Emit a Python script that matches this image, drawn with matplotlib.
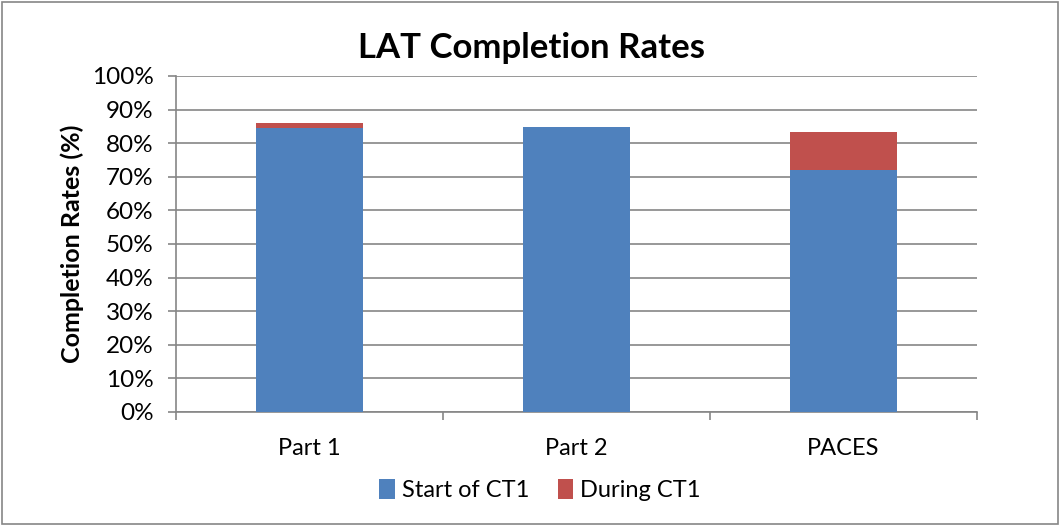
"""LAT completion rates, stacked bars (start of CT1 + during CT1)."""
import matplotlib
matplotlib.use("Agg")
import matplotlib.pyplot as plt
import numpy as np
from matplotlib.patches import Rectangle

plt.rcParams["font.family"] = ["Lato", "DejaVu Sans"]

categories = ["Part 1", "Part 2", "PACES"]
start_ct1 = [84.6, 84.7, 72.1]
during_ct1 = [1.3, 0.0, 11.3]
series_names = ["Start of CT1", "During CT1"]
yticks = np.arange(0, 101, 10)
ytick_labels = [f"{v}%" for v in yticks]

BLUE = "#4F81BD"
RED = "#C0504D"
GRID = "#868686"

fig = plt.figure(figsize=(10.61, 5.26), dpi=100)
ax = fig.add_axes([176 / 1061, 1 - 412 / 526, 801 / 1061, 336 / 526])

x = np.arange(len(categories))
ax.bar(x, start_ct1, width=0.4, color=BLUE, label=series_names[0], zorder=3)
ax.bar(x, during_ct1, width=0.4, bottom=start_ct1, color=RED,
       label=series_names[1], zorder=3)

ax.set_xlim(-0.5, len(categories) - 0.5)
ax.set_ylim(0, 100)
ax.set_yticks(yticks)
ax.set_yticklabels(ytick_labels, fontsize=17.5)
ax.set_xticks(x)
ax.set_xticklabels(categories, fontsize=17)
ax.tick_params(axis="x", length=0, pad=19)
ax.tick_params(axis="y", length=6, color=GRID, width=1.2, pad=10)

# category boundary ticks on the x axis
ax.set_xticks(np.arange(-0.5, len(categories)), minor=True)
ax.tick_params(axis="x", which="minor", length=6, color=GRID, width=1.2)

ax.grid(axis="y", color=GRID, linewidth=1.2, zorder=0)
for side in ["top", "right"]:
    ax.spines[side].set_visible(False)
for side in ["left", "bottom"]:
    ax.spines[side].set_color(GRID)
    ax.spines[side].set_linewidth(1.2)

ax.set_ylabel("Completion Rates (%)", fontsize=18, fontweight="bold", labelpad=6)
fig.text(532 / 1061, 1 - 48 / 526, "LAT Completion Rates", fontsize=25,
         fontweight="bold", ha="center", va="center")

fig.legend(loc="center", bbox_to_anchor=(540 / 1061, 1 - 490 / 526), ncol=2,
           frameon=False, fontsize=17, handlelength=0.65, handleheight=0.9,
           handletextpad=0.3, columnspacing=1.2)

fig.patches.append(Rectangle((0.002, 0.003), 0.995, 0.994, transform=fig.transFigure,
                             fill=False, edgecolor=GRID, linewidth=1.2))

plt.savefig("out.png", dpi=100)
plt.close()
